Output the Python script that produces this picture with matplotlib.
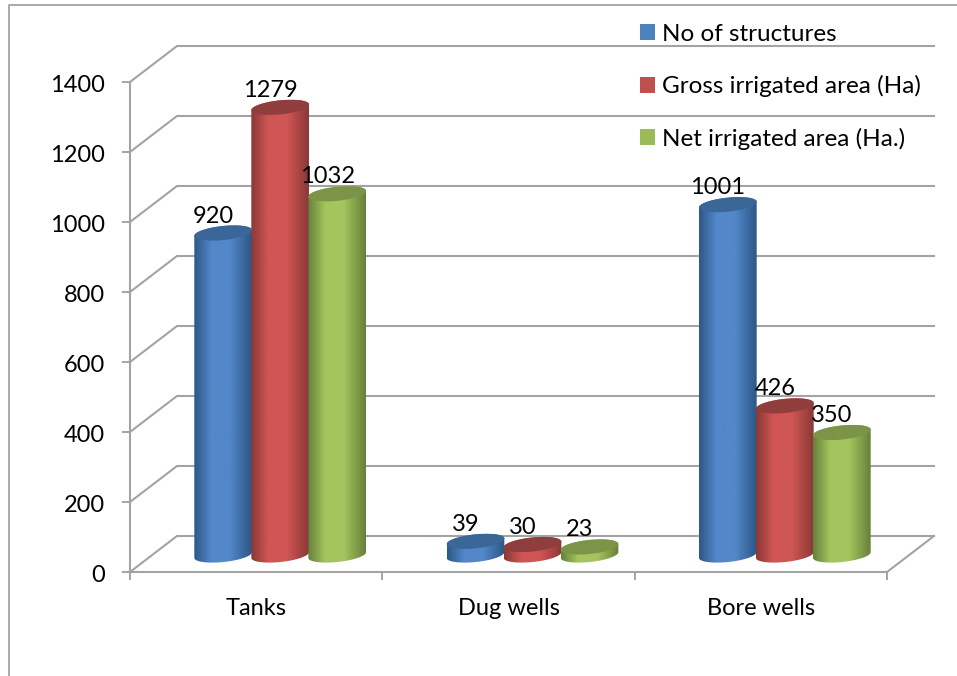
import numpy as np
import matplotlib
matplotlib.use('Agg')
import matplotlib.pyplot as plt
from matplotlib.colors import LinearSegmentedColormap
from matplotlib.lines import Line2D
from matplotlib.patches import Patch, PathPatch, Polygon
from matplotlib.path import Path
from matplotlib.transforms import ScaledTranslation

plt.rcParams['font.family'] = ['Lato', 'DejaVu Sans']

# Дані діаграми
categories = ['Tanks', 'Dug wells', 'Bore wells']
series_names = ['No of structures', 'Gross irrigated area (Ha)', 'Net irrigated area (Ha.)']
structures = [920, 39, 1001]
gross_area = [1279, 30, 426]
net_area = [1032, 23, 350]
y_ticks = [0, 200, 400, 600, 800, 1000, 1200, 1400]

# кольори: край, центр, верхня кришка
colors = [
    ('#2c5785', '#5387c9', '#3a6698'),
    ('#8a3836', '#cf5654', '#8f3e3d'),
    ('#66803a', '#a4c55e', '#7b9448'),
]
legend_colors = ['#4f81bd', '#c0504d', '#9bbb59']
grid_color = '#a3a3a3'
text_color = '#000000'

W, H = 957, 676
fig = plt.figure(figsize=(W / 100, H / 100), dpi=100, facecolor='white')
ax = fig.add_axes([130 / W, 1 - 572 / H, 757 / W, 490 / H])
ax.patch.set_alpha(0)

# пікселі -> одиниці даних
px_x = 3 / 757
px_y = 1400 / 490


def ellipse_points(cx, cy, t, a=29, b=7, tilt=6):
    """Точки нахиленого еліпса; a, b у пікселях, центр у даних."""
    r = np.radians(tilt)
    ex, ey = a * np.cos(t), b * np.sin(t)
    x = ex * np.cos(r) - ey * np.sin(r)
    y = ex * np.sin(r) + ey * np.cos(r)
    return cx + x * px_x, cy + y * px_y


def draw_cylinder(cx, value, style, z):
    edge, mid, cap = style
    x0 = cx + 24 * px_x
    y0 = 17 * px_y
    t_low = np.linspace(np.pi, 2 * np.pi, 60)
    t_up = np.linspace(0, np.pi, 60)
    bx, by = ellipse_points(x0, y0, t_low)
    tx, ty = ellipse_points(x0, y0 + value, t_up)
    outline = np.column_stack([np.r_[bx, tx], np.r_[by, ty]])
    body = PathPatch(Path(np.vstack([outline, outline[0]]), closed=True),
                     facecolor='none', edgecolor='none', zorder=z)
    ax.add_patch(body)
    cmap = LinearSegmentedColormap.from_list(
        'cyl', [(0, edge), (0.3, mid), (0.62, mid), (1, edge)])
    img = ax.imshow(np.linspace(0, 1, 256).reshape(1, -1), cmap=cmap, aspect='auto',
                    extent=[outline[:, 0].min(), outline[:, 0].max(),
                            outline[:, 1].min(), outline[:, 1].max()],
                    zorder=z)
    img.set_clip_path(body)
    # верхня кришка
    t = np.linspace(0, 2 * np.pi, 120)
    ex, ey = ellipse_points(x0, y0 + value, t)
    ax.add_patch(Polygon(np.column_stack([ex, ey]), closed=True, facecolor=cap,
                         edgecolor='none', zorder=z + 0.1, clip_on=False))
    ax.text(cx + 14 * px_x, y0 + value + 17 * px_y, str(value), ha='center', va='center',
            fontsize=17, color=text_color, zorder=20, clip_on=False)


# стінка і підлога
depth_x = 47 * px_x
depth_y = 36 * px_y
for v in y_ticks:
    ax.plot([0, depth_x, 3 + depth_x], [v, v + depth_y, v + depth_y], color=grid_color,
            lw=1.5, clip_on=False, zorder=1, solid_joinstyle='miter')
ax.plot([3, 3 + depth_x], [0, depth_y], color=grid_color, lw=1.5, clip_on=False, zorder=1)

# циліндри
offsets = np.array([-57, 0, 57]) * px_x
series = [structures, gross_area, net_area]
for i in range(len(categories)):
    for j, vals in enumerate(series):
        draw_cylinder(i + 0.5 + offsets[j], vals[i], colors[j], 3 + j + i * 3)

ax.set_xlim(0, 3)
ax.set_ylim(0, 1400)
ax.set_yticks(y_ticks)
ax.set_xticks([0, 1, 2, 3])
ax.set_xticklabels([])
ax.set_xticks([0.5, 1.5, 2.5], categories, minor=True)
ax.tick_params(axis='both', which='major', length=5.8, width=1.4, color=grid_color,
               labelsize=17, labelcolor=text_color)
ax.tick_params(axis='y', pad=12)
ax.tick_params(axis='x', which='minor', length=0, labelsize=17, pad=19, labelcolor=text_color)
for name in ['top', 'right']:
    ax.spines[name].set_visible(False)
for name in ['left', 'bottom']:
    ax.spines[name].set_color(grid_color)
    ax.spines[name].set_linewidth(1.5)

# підписи осі Y трохи нижче за поділки
shift = ScaledTranslation(0, -2 / 100, fig.dpi_scale_trans)
for lbl in ax.get_yticklabels():
    lbl.set_transform(lbl.get_transform() + shift)

# легенда
handles = [Patch(facecolor=c, edgecolor='none') for c in legend_colors]
fig.legend(handles, series_names, loc='upper left', bbox_to_anchor=(618 / W, 1 - 2 / H),
           frameon=False, fontsize=17.5, handlelength=0.62, handleheight=0.62,
           handletextpad=0.3, labelspacing=1.25, labelcolor=text_color, borderpad=0.4)

# рамка області діаграми
fig.add_artist(Line2D([9 / W, 9 / W, 1], [0, 1 - 5 / H, 1 - 5 / H], color=grid_color, lw=1.3))

fig.savefig('out.png', dpi=100)
